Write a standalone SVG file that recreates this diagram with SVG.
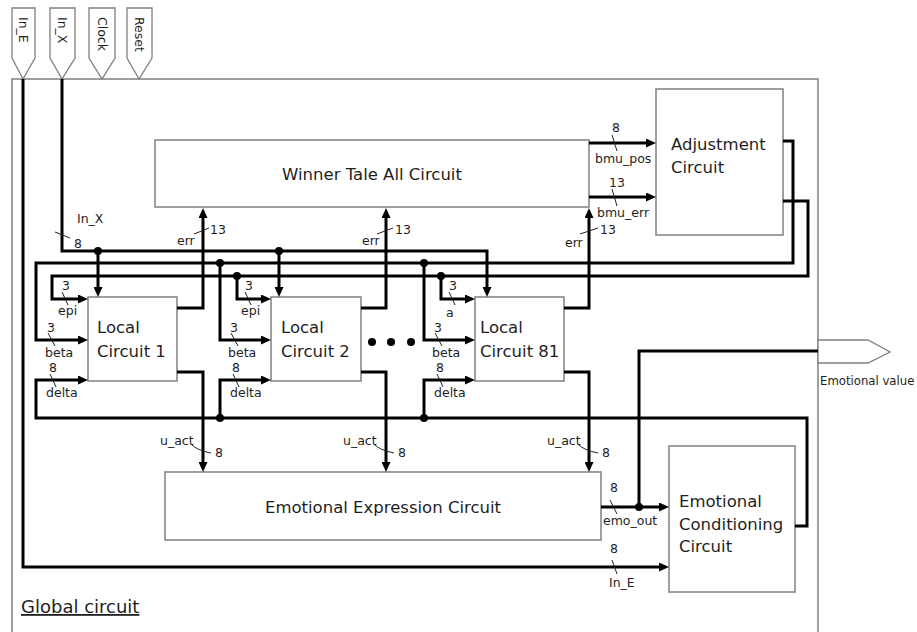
<svg xmlns="http://www.w3.org/2000/svg" width="917" height="632" viewBox="0 0 917 632">
<style>
.box{fill:#fff;stroke:#808080;stroke-width:1.5}
.pin{fill:#fff;stroke:#808080;stroke-width:1.3}
.w{fill:none;stroke:#000;stroke-width:3}
.t{stroke:#222;stroke-width:1;fill:none}
text{font-family:"DejaVu Sans",Verdana,sans-serif;fill:#1e1e1e}
.bt{font-size:16.5px}
.st{font-size:12.5px}
</style>
<defs>
<marker id="ah" viewBox="0 0 10 9" refX="5" refY="4.5" markerWidth="10" markerHeight="9" markerUnits="userSpaceOnUse" orient="auto"><path d="M0,0 L10,4.5 L0,9 z" fill="#000"/></marker>
</defs>
<rect x="0" y="0" width="917" height="632" fill="#fff"/>
<g id="global">
<rect x="12" y="79" width="806" height="570" fill="none" stroke="#808080" stroke-width="1.5"/>
<text x="21" y="613" font-size="18" text-decoration="underline">Global circuit</text>
</g>
<g id="pins">
<g id="pin-in-e"><polygon class="pin" points="12,8 35,8 35,58 23,79 12,58"/><text class="st" transform="translate(19,17) rotate(90)">In_E</text></g>
<g id="pin-in-x"><polygon class="pin" points="50,8 75,8 75,58 62,79 50,58"/><text class="st" transform="translate(58,17) rotate(90)">In_X</text></g>
<g id="pin-clock"><polygon class="pin" points="89,8 115,8 115,58 102,79 89,58"/><text class="st" transform="translate(97.5,17) rotate(90)">Clock</text></g>
<g id="pin-reset"><polygon class="pin" points="127,8 152,8 152,58 139,79 127,58"/><text class="st" transform="translate(135,17) rotate(90)">Reset</text></g>
<g id="pin-emo"><polygon class="pin" points="818,340 868,340 890,352 868,363 818,363"/><text x="820" y="385" font-size="11.7">Emotional value</text></g>
</g>
<g id="wta"><rect class="box" x="155" y="140" width="434" height="67"/><text class="bt" x="372" y="180" text-anchor="middle">Winner Tale All Circuit</text></g>
<g id="adj"><rect class="box" x="656" y="89" width="127" height="146"/><text class="bt" x="671" y="150">Adjustment</text><text class="bt" x="671" y="173">Circuit</text></g>
<g id="lc1"><rect class="box" x="88" y="297" width="89" height="84"/><text class="bt" x="97" y="333">Local</text><text class="bt" x="97" y="357">Circuit 1</text></g>
<g id="lc2"><rect class="box" x="271" y="297" width="90" height="84"/><text class="bt" x="281" y="333">Local</text><text class="bt" x="281" y="357">Circuit 2</text></g>
<g id="lc81"><rect class="box" x="475" y="297" width="89" height="84"/><text class="bt" x="480" y="333">Local</text><text class="bt" x="480" y="357">Circuit 81</text></g>
<g id="ellipsis"><circle cx="372" cy="342" r="4"/><circle cx="391" cy="342" r="4"/><circle cx="411" cy="342" r="4"/></g>
<g id="eec"><rect class="box" x="165" y="472" width="436" height="68"/><text class="bt" x="383" y="513" text-anchor="middle">Emotional Expression Circuit</text></g>
<g id="ecc"><rect class="box" x="669" y="446" width="126" height="146"/><text class="bt" x="679" y="507">Emotional</text><text class="bt" x="679" y="529.5">Conditioning</text><text class="bt" x="679" y="552">Circuit</text></g>
<g id="connectors">
<path class="w" d="M23,79 V567 H664" marker-end="url(#ah)"/>
<path class="w" d="M62,79 V251 H487 V292" marker-end="url(#ah)"/>
<path class="w" d="M98,251 V292" marker-end="url(#ah)"/>
<path class="w" d="M279,251 V292" marker-end="url(#ah)"/>
<path class="w" d="M783,141 H793 V263 H36 V340 H83" marker-end="url(#ah)"/>
<path class="w" d="M220,263 V340 H266" marker-end="url(#ah)"/>
<path class="w" d="M424,263 V340 H470" marker-end="url(#ah)"/>
<path class="w" d="M783,201 H808 V276 H52 V299 H83" marker-end="url(#ah)"/>
<path class="w" d="M237,276 V299 H266" marker-end="url(#ah)"/>
<path class="w" d="M441,276 V299 H470" marker-end="url(#ah)"/>
<path class="w" d="M795,526 H807 V418 H36 V380 H83" marker-end="url(#ah)"/>
<path class="w" d="M220,418 V380 H266" marker-end="url(#ah)"/>
<path class="w" d="M424,418 V380 H470" marker-end="url(#ah)"/>
<path class="w" d="M177,308 H203 V213" marker-end="url(#ah)"/>
<path class="w" d="M177,372 H203 V467" marker-end="url(#ah)"/>
<path class="w" d="M361,308 H386 V213" marker-end="url(#ah)"/>
<path class="w" d="M361,372 H386 V467" marker-end="url(#ah)"/>
<path class="w" d="M564,308 H589 V213" marker-end="url(#ah)"/>
<path class="w" d="M564,372 H589 V467" marker-end="url(#ah)"/>
<path class="w" d="M589,143 H651" marker-end="url(#ah)"/>
<path class="w" d="M589,197 H651" marker-end="url(#ah)"/>
<path class="w" d="M601,507 H664" marker-end="url(#ah)"/>
<path class="w" d="M639,507 V351 H818"/>
<g id="junctions">
<circle cx="98" cy="251" r="4"/><circle cx="279" cy="251" r="4"/>
<circle cx="220" cy="263" r="4"/><circle cx="424" cy="263" r="4"/>
<circle cx="237" cy="276" r="4"/><circle cx="441" cy="276" r="4"/>
<circle cx="220" cy="418" r="4"/><circle cx="424" cy="418" r="4"/>
<circle cx="639" cy="507" r="4"/>
</g>
<g id="bus-labels">
<text class="st" x="77" y="223">In_X</text><text class="st" x="74" y="248">8</text><line class="t" x1="55" y1="232" x2="70" y2="238"/>
<text class="st" x="177" y="245">err</text><text class="st" x="210" y="234">13</text><line class="t" x1="194" y1="234" x2="209" y2="228"/>
<text class="st" x="362" y="245">err</text><text class="st" x="395" y="234">13</text><line class="t" x1="377" y1="234" x2="393" y2="228"/>
<text class="st" x="565" y="247">err</text><text class="st" x="600" y="234">13</text><line class="t" x1="580" y1="234" x2="598" y2="228"/>
<text class="st" x="160" y="445">u_act</text><text class="st" x="215" y="457">8</text><path class="t" d="M191,444 Q196,450 211,453"/>
<text class="st" x="343" y="445">u_act</text><text class="st" x="398" y="457">8</text><path class="t" d="M374,444 Q379,450 394,453"/>
<text class="st" x="547" y="445">u_act</text><text class="st" x="602" y="457">8</text><path class="t" d="M578,444 Q583,450 598,453"/>
<text class="st" x="62" y="290">3</text><line class="t" x1="62" y1="292" x2="68" y2="305"/><text class="st" x="58" y="315">epi</text>
<text class="st" x="47" y="332">3</text><line class="t" x1="48" y1="333" x2="55" y2="346"/><text class="st" x="45" y="357">beta</text>
<text class="st" x="49" y="372">8</text><line class="t" x1="50" y1="374" x2="56" y2="387"/><text class="st" x="46" y="397">delta</text>
<text class="st" x="245" y="290">3</text><line class="t" x1="245" y1="292" x2="251" y2="305"/><text class="st" x="241" y="315">epi</text>
<text class="st" x="230" y="332">3</text><line class="t" x1="231" y1="333" x2="238" y2="346"/><text class="st" x="228" y="357">beta</text>
<text class="st" x="232" y="372">8</text><line class="t" x1="233" y1="374" x2="239" y2="387"/><text class="st" x="230" y="397">delta</text>
<text class="st" x="449" y="290">3</text><line class="t" x1="449" y1="292" x2="455" y2="305"/><text class="st" x="446" y="317">a</text>
<text class="st" x="434" y="332">3</text><line class="t" x1="435" y1="333" x2="442" y2="346"/><text class="st" x="432" y="357">beta</text>
<text class="st" x="436" y="372">8</text><line class="t" x1="437" y1="374" x2="443" y2="387"/><text class="st" x="434" y="397">delta</text>
<text class="st" x="612" y="132">8</text><line class="t" x1="612" y1="135" x2="617" y2="151"/><text class="st" x="595" y="163">bmu_pos</text>
<text class="st" x="609" y="187">13</text><line class="t" x1="612" y1="189" x2="617" y2="206"/><text class="st" x="597" y="217">bmu_err</text>
<text class="st" x="610" y="492">8</text><line class="t" x1="610" y1="500" x2="617" y2="514"/><text class="st" x="603" y="525">emo_out</text>
<text class="st" x="610" y="553">8</text><line class="t" x1="612" y1="560" x2="617" y2="574"/><text class="st" x="609" y="587">In_E</text>
</g>
</g>
</svg>
